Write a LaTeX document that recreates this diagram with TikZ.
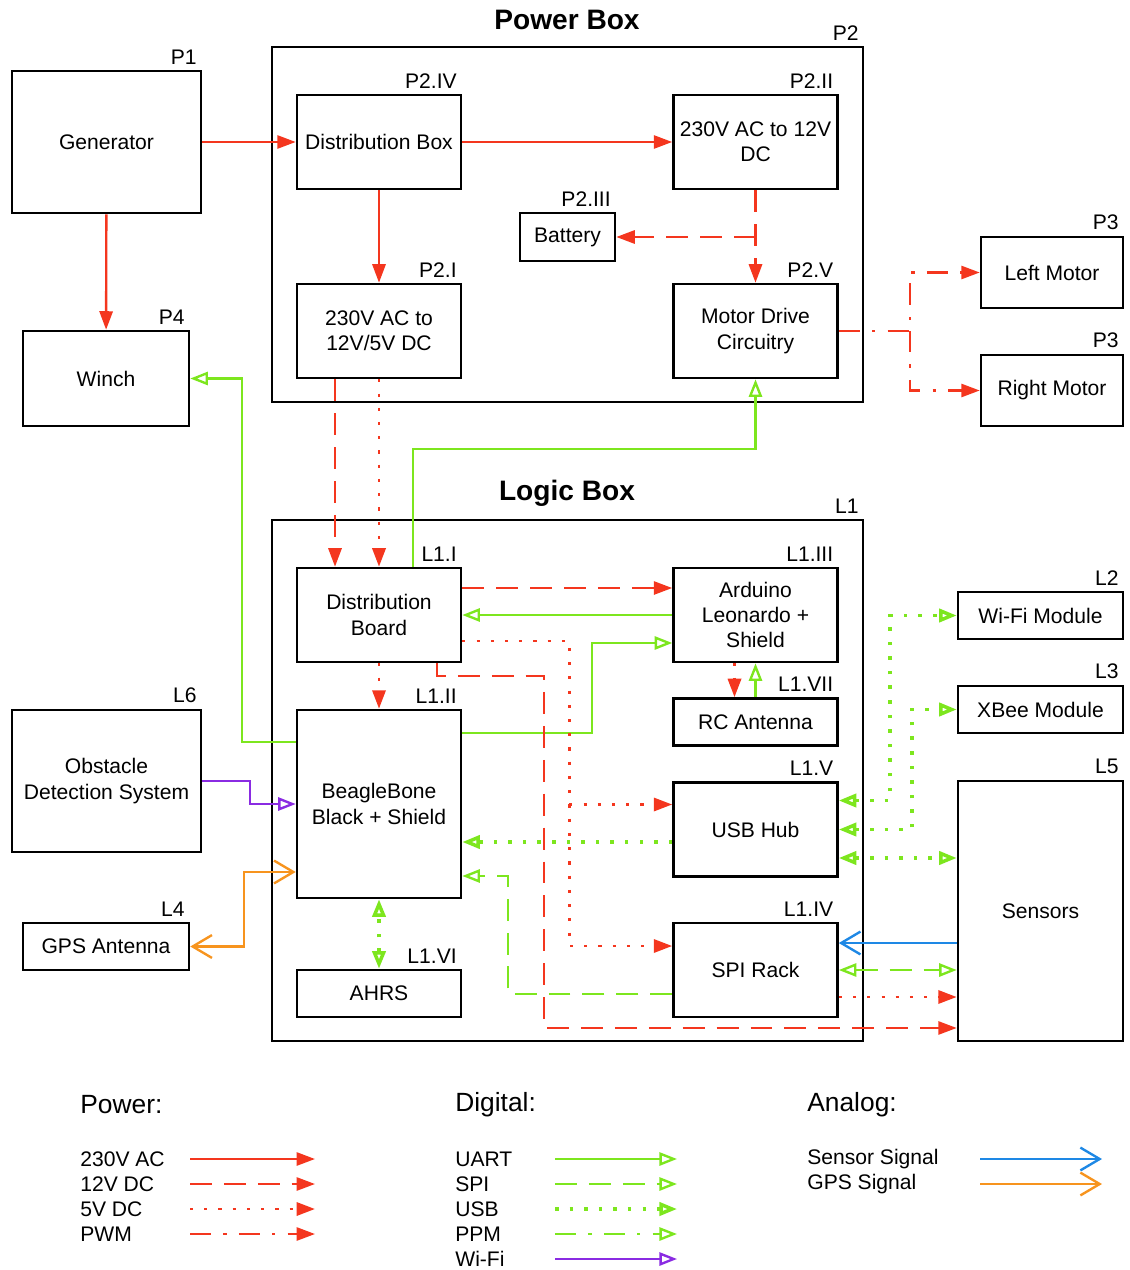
\documentclass[tikz,border=0pt]{standalone}
\usepackage{fontspec}
\setmainfont{Liberation Sans}
\usetikzlibrary{arrows.meta,positioning,calc}
\definecolor{pwrred}{HTML}{F4361E}
\definecolor{diggreen}{HTML}{7DE61E}
\definecolor{wifipurple}{HTML}{8A2BE2}
\definecolor{senblue}{HTML}{1E88E5}
\definecolor{gpsorange}{HTML}{F7941E}
\tikzset{
  ptip/.tip={Triangle[length=10.5pt,width=7.5pt]},
  dtip/.tip={Triangle[open,length=10pt,width=7.5pt]},
  atip/.tip={Straight Barb[length=11pt,width=13pt]},
}
\begin{document}
\begin{tikzpicture}[
    x=0.02cm, y=-0.02cm,
    font=\fontsize{12pt}{14.4pt}\selectfont,
    % boxes
    blk/.style={draw, line width=1.5pt, align=center, inner sep=1pt},
    tag/.style={anchor=south east, inner sep=3pt},
    wide/.style={blk, minimum width=3.28cm, minimum height=1.88cm},
    slim/.style={blk, minimum width=3.28cm, minimum height=0.94cm},
    big/.style={blk, minimum width=3.78cm, minimum height=2.84cm},
    encl/.style={draw, line width=1.4pt, minimum width=11.82cm},
    boxtitle/.style={font=\fontsize{16pt}{19pt}\selectfont\bfseries},
    % connectors
    conn/.style={line width=1.35pt},
    ac/.style={conn, draw=pwrred, -ptip},
    v12/.style={ac, dash pattern=on 12.5pt off 6.8pt},
    v5/.style={ac, line width=1.6pt, dash pattern=on 1.8pt off 6.3pt},
    pwm/.style={ac, dash pattern=on 12pt off 7pt on 1.8pt off 7pt},
    uart/.style={conn, draw=diggreen, -dtip},
    spi/.style={uart, dash pattern=on 12.5pt off 6.8pt},
    usb/.style={uart, line width=2pt, dash pattern=on 2pt off 6.3pt},
    ppm/.style={uart, dash pattern=on 12pt off 7pt on 1.8pt off 7pt},
    wlan/.style={uart, draw=wifipurple},
    sensig/.style={conn, draw=senblue, -atip},
    gpssig/.style={conn, draw=gpsorange, -atip},
    legtxt/.style={anchor=west, inner sep=0pt},
    leghead/.style={anchor=west, inner sep=0pt, font=\fontsize{15pt}{18pt}\selectfont},
]
\useasboundingbox (0,0) rectangle (1129,1270);

%================= outside the power box =================%
\node[big, label={[tag]north east:P1}] (gen) at (106.5,142) {Generator};
\node[blk, minimum width=3.32cm, minimum height=1.9cm, label={[tag]north east:P4}] (winch) at (106,378.5) {Winch};
\node[blk, minimum width=2.84cm, minimum height=1.42cm, label={[tag]north east:P3}] (lmotor) at (1052,272.5) {Left Motor};
\node[blk, minimum width=2.84cm, minimum height=1.42cm, label={[tag]north east:P3}] (rmotor) at (1052,390.5) {Right Motor};

%================= power box =================%
\node[boxtitle] (ptitle) at (567,20) {Power Box};
\node[encl, minimum height=7.1cm, label={[tag]north east:P2}] (pbox) at (567.5,224.5) {};
\node[wide, label={[tag]north east:P2.IV}] (pdist) at (379,142) {Distribution Box};
\node[wide, label={[tag]north east:P2.II}] (conv12) at (755.5,142) {230V AC to 12V\\DC};
\node[blk, minimum width=1.9cm, minimum height=0.96cm, label={[tag]north east:P2.III}] (battery) at (567.5,237) {Battery};
\node[wide, label={[tag]north east:P2.I}] (conv5) at (379,331) {230V AC to\\12V/5V DC};
\node[wide, label={[tag]north east:P2.V}] (motordrv) at (755.5,331) {Motor Drive\\Circuitry};

\draw[ac] (gen) -- (pdist);
\draw[ac] (pdist) -- (conv12);
\draw[ac] (pdist) -- (conv5);
\draw[ac] (gen) -- (winch);
\draw[v12] (conv12) -- (motordrv);
\draw[v12] (battery -| conv12) -- (battery);
\coordinate (pwmsplit) at (910,331);
\draw[pwm] (motordrv.east) -- (pwmsplit) |- (lmotor);
\draw[pwm] (pwmsplit) |- (rmotor);

%================= logic box =================%
\node[boxtitle] (ltitle) at (567,493) {Logic Box};
\node[encl, minimum height=10.42cm, label={[tag]north east:L1}] (lbox) at (567.5,780.5) {};
\node[wide, label={[tag]north east:L1.I}] (dboard) at (379,615) {Distribution\\Board};
\node[wide, label={[tag]north east:L1.III}] (arduino) at (755.5,615) {Arduino\\Leonardo +\\Shield};
\node[blk, minimum width=3.28cm, minimum height=3.76cm, label={[tag]north east:L1.II}] (beagle) at (379,804) {BeagleBone\\Black + Shield};
\node[slim, label={[tag]north east:L1.VII}] (rcant) at (755.5,722) {RC Antenna};
\node[wide, label={[tag]north east:L1.V}] (usbhub) at (755.5,829.5) {USB Hub};
\node[wide, label={[tag]north east:L1.IV}] (spirack) at (755.5,970) {SPI Rack};
\node[slim, label={[tag]north east:L1.VI}] (ahrs) at (379,993.5) {AHRS};

%================= around the logic box =================%
\node[blk, minimum width=3.3cm, minimum height=0.94cm, label={[tag]north east:L2}] (wifimod) at (1040.5,615.5) {Wi-Fi Module};
\node[blk, minimum width=3.3cm, minimum height=0.94cm, label={[tag]north east:L3}] (xbee) at (1040.5,709.5) {XBee Module};
\node[blk, minimum width=3.3cm, minimum height=5.2cm, label={[tag]north east:L5}] (sensors) at (1040.5,911) {Sensors};
\node[big, label={[tag]north east:L6}] (obstacle) at (106.5,781) {Obstacle\\Detection System};
\node[blk, minimum width=3.32cm, minimum height=0.94cm, label={[tag]north east:L4}] (gpsant) at (106,946.5) {GPS Antenna};

% power into the logic box
\draw[v12] ([xshift=-0.88cm]conv5.south) -- ([xshift=-0.88cm]dboard.north);
\draw[v5] (conv5) -- (dboard);
\draw[uart] ([xshift=0.68cm]dboard.north) -- ++(0,2.36cm) -| (motordrv);

% distribution board and arduino
\draw[v12] ([yshift=0.54cm]dboard.east) -- ([yshift=0.54cm]arduino.west);
\draw[uart] (arduino) -- (dboard);
\draw[uart] ([yshift=1.42cm]beagle.east) -- ++(2.6cm,0) |- ([yshift=-0.56cm]arduino.west);
\draw[v5] ([yshift=-0.52cm]dboard.east) -- ++(2.14cm,0) coordinate (v5bend) |- ([yshift=0.48cm]spirack.west);
\coordinate (usbin) at ([yshift=0.5cm]usbhub.west);
\draw[v5] (v5bend |- usbin) -- (usbin);
\draw[v12] ([xshift=1.16cm]dboard.south) -- ++(0,-0.26cm) -- ++(2.14cm,0) |- ([yshift=-2.34cm]sensors.west);
\draw[v5] (dboard) -- (beagle);
\draw[v5] ([xshift=-0.42cm]arduino.south) -- ([xshift=-0.42cm]rcant.north);
\draw[ppm] (rcant) -- (arduino);

% beaglebone links
\draw[uart] ([yshift=1.24cm]beagle.west) -- ++(-1.08cm,0) |- (winch);
\draw[wlan] (obstacle.east) -- ++(0.96cm,0) |- (beagle);
\draw[gpssig, atip-atip] (gpsant.east) -- ++(1.08cm,0) |- ([yshift=-1.36cm]beagle.west);
\coordinate (usbout) at ([yshift=-0.25cm]usbhub.west);
\draw[usb] (usbout) -- (usbout -| beagle.east);
\draw[spi] ([yshift=-0.48cm]spirack.west) -- ++(-3.28cm,0) |- ([yshift=-1.44cm]beagle.east);
\draw[usb, dtip-dtip] (ahrs) -- (beagle);

% usb hub and spi rack to the outside
\draw[usb, dtip-dtip] ([yshift=0.58cm]usbhub.east) -- ++(1.02cm,0) |- (wifimod);
\draw[usb, dtip-dtip] (usbhub.east) -- ++(1.46cm,0) |- (xbee);
\coordinate (usbsens) at ([yshift=-0.57cm]usbhub.east);
\draw[usb, dtip-dtip] (usbsens) -- (usbsens -| sensors.west);
\coordinate (spisens) at ([yshift=0.54cm]spirack.east);
\draw[sensig] (spisens -| sensors.west) -- (spisens);
\draw[spi, dtip-dtip] (spirack.east) -- (spirack.east -| sensors.west);
\coordinate (v5sens) at ([yshift=-0.54cm]spirack.east);
\draw[v5] (v5sens) -- (v5sens -| sensors.west);

%================= legend =================%
\node[leghead] (powhead) at (80,1105) {Power:};
\node[leghead] (dighead) at (455,1105) {Digital:};
\node[leghead] (anahead) at (807,1105) {Analog:};
\foreach \sty/\txt [count=\i from 0] in {ac/230V AC, v12/12V DC, v5/5V DC, pwm/PWM} {
  \node[legtxt] (pwr\i) at (80,1159+25*\i) {\txt};
  \coordinate (pwra\i) at (190,1159+25*\i);
  \coordinate (pwrb\i) at (315,1159+25*\i);
  \draw[\sty] (pwra\i) -- (pwrb\i);
}
\foreach \sty/\txt [count=\i from 0] in {uart/UART, spi/SPI, usb/USB, ppm/PPM, wlan/Wi-Fi} {
  \node[legtxt] (dig\i) at (455,1159+25*\i) {\txt};
  \coordinate (diga\i) at (555,1159+25*\i);
  \coordinate (digb\i) at (677,1159+25*\i);
  \draw[\sty] (diga\i) -- (digb\i);
}
\foreach \sty/\txt [count=\i from 0] in {sensig/Sensor Signal, gpssig/GPS Signal} {
  \node[legtxt] (ana\i) at (807,1159+25*\i) {\txt};
  \coordinate (anaa\i) at (980,1159+25*\i);
  \coordinate (anab\i) at (1102,1159+25*\i);
  \draw[\sty] (anaa\i) -- (anab\i);
}

\end{tikzpicture}
\end{document}
